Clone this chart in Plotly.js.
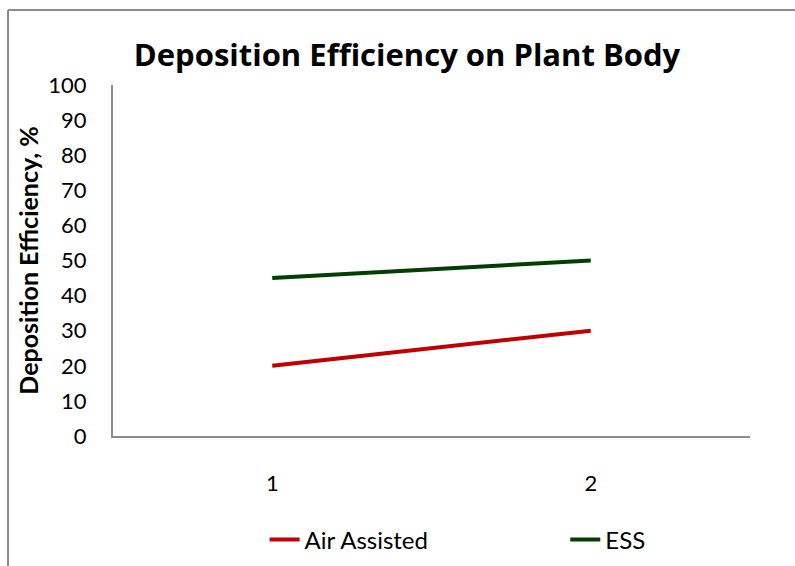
<!DOCTYPE html>
<html>
<head>
<meta charset="utf-8">
<script src="https://cdn.plot.ly/plotly-3.0.1.min.js"></script>
<style>html,body{margin:0;padding:0;background:#fff;}#chart{width:795px;height:566px;}</style>
</head>
<body>
<div id="chart"></div>
<script>
const categories = [1, 2];
const airAssisted = [20, 30];
const ess = [45, 50];
const seriesNames = ['Air Assisted', 'ESS'];
const yTicks = [0, 10, 20, 30, 40, 50, 60, 70, 80, 90, 100];

const FONT = 'Lato, "Open Sans", sans-serif';
const TFONT = '"Open Sans", Lato, sans-serif';

const traces = [
  {x: categories, y: airAssisted, name: seriesNames[0], type: 'scatter', mode: 'lines',
   line: {color: '#C00000', width: 4}, legend: 'legend'},
  {x: categories, y: ess, name: seriesNames[1], type: 'scatter', mode: 'lines',
   line: {color: '#003F00', width: 4}, legend: 'legend2'}
];

const legendBase = {orientation: 'h', xanchor: 'left', yref: 'container', y: 0.046, yanchor: 'middle',
                    font: {family: FONT, size: 24, color: '#000'}, bgcolor: 'rgba(0,0,0,0)'};

const layout = {
  width: 795, height: 566,
  margin: {l: 113, r: 45, t: 85, b: 130},
  paper_bgcolor: '#fff', plot_bgcolor: '#fff',
  font: {family: FONT, size: 22, color: '#000'},
  title: {text: '<b>Deposition Efficiency on Plant Body</b>', font: {family: TFONT, size: 31, color: '#000'},
          x: 0.512, xanchor: 'center', y: 0.903, yanchor: 'middle'},
  xaxis: {range: [0.5, 2.5], tickvals: categories, ticktext: categories.map(String),
          showgrid: false, zeroline: false, showline: true, linecolor: '#8c8c8c', linewidth: 2,
          ticks: '', ticklabelstandoff: 27, automargin: false, fixedrange: true},
  yaxis: {range: [0, 100], tickvals: yTicks, showgrid: false, zeroline: false, automargin: false,
          showline: true, linecolor: '#8c8c8c', linewidth: 2, ticks: '', ticklabelstandoff: 20,
          title: {text: '<b>Deposition Efficiency, %</b>', font: {family: FONT, size: 25}, standoff: 3}},
  showlegend: true,
  legend: Object.assign({}, legendBase, {x: 0.238}),
  legend2: Object.assign({}, legendBase, {x: 0.710}),
  shapes: [
    {type: 'line', xref: 'paper', yref: 'paper', x0: -0.1648, x1: -0.1648, y0: 1.2137, y1: -0.5,
     line: {color: '#8c8c8c', width: 2}},
    {type: 'line', xref: 'paper', yref: 'paper', x0: -0.1648, x1: 1.1, y0: 1.2137, y1: 1.2137,
     line: {color: '#8c8c8c', width: 2}}
  ]
};

Plotly.newPlot('chart', traces, layout, {displayModeBar: false, staticPlot: true});
</script>
</body>
</html>
